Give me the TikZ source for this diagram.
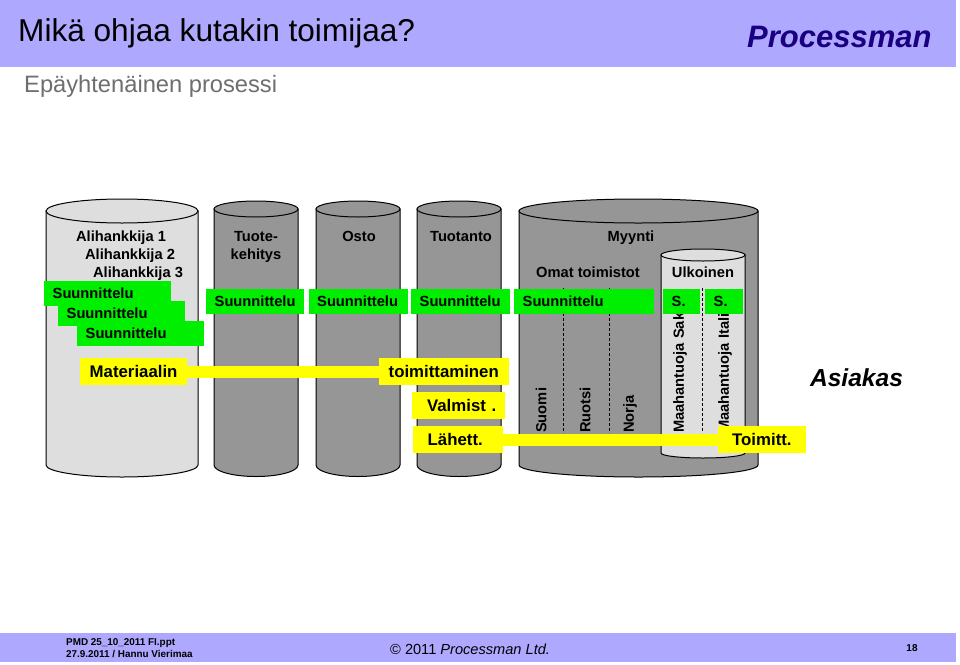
\documentclass[tikz,border=0pt]{standalone}
\usepackage{fontspec}
\setmainfont{Liberation Sans}
\usepackage{xcolor}
\usetikzlibrary{shapes.geometric, arrows}
\definecolor{band}{HTML}{AFA8FF}
\definecolor{navy}{HTML}{1A0080}
\definecolor{lightdrum}{HTML}{DEDEDE}
\definecolor{darkdrum}{HTML}{969696}
\definecolor{subgray}{HTML}{6E6E6E}
\definecolor{greenlabel}{HTML}{00EE00}
\definecolor{yellowlabel}{HTML}{FFFF00}
\newcommand{\fpx}[1]{\fontsize{#1}{#1}\selectfont}
% x, width, top, bottom, top radius, bottom radius, fill
\newcommand{\drumshape}[7]{
    \draw[line width=1pt,fill=#7] (#1,#3) -- (#1,#4) arc[start angle=180,end angle=360,x radius=#2/2*1pt,y radius=#6*1pt] -- ({#1+#2},#3) -- cycle;
    \draw[line width=1pt,fill=#7] ({#1+#2/2},#3) ellipse[x radius=#2/2*1pt,y radius=#5*1pt];
}
\tikzstyle{yellowbar} = [line width=12pt,yellowlabel]

\begin{document}
\begin{tikzpicture}
        [
            x=1pt,y=-1pt,
            head/.style={font=\bfseries\fpx{14.7},inner sep=0pt,align=center,text height=11pt,text depth=3pt},
            greenbox/.style={fill=greenlabel,anchor=west,font=\bfseries\fpx{14.7},inner xsep=8.5pt,inner ysep=0pt,text width=#1,align=left,minimum height=25pt,text height=12pt,text depth=2pt},
            yellowbox/.style={fill=yellowlabel,anchor=west,font=\bfseries\fpx{16.8},inner xsep=9.5pt,inner ysep=0pt,text width=#1,align=left,minimum height=27pt,text height=13.5pt,text depth=2pt},
            turned/.style={rotate=90,anchor=west,font=\bfseries\fpx{14.7},inner sep=0pt},
        ]
    \useasboundingbox (0,0) rectangle (960,664);

    % bands
    \fill[band] (0,0) rectangle (956,67);
    \fill[band] (0,633) rectangle (956,662);
    \node[anchor=west,inner sep=0pt,font=\fpx{31.6}] (title) at (18,33.5) {Mikä ohjaa kutakin toimijaa?};
    \node[anchor=west,inner sep=0pt,font=\bfseries\itshape\fpx{31},navy] (logo) at (747,37) {Processman};
    \node[anchor=west,inner sep=0pt,font=\fpx{23.7},subgray] (subtitle) at (24,86.5) {Epäyhtenäinen prosessi};

    % drums
    \drumshape{46}{152}{211}{465}{12}{12}{lightdrum}
    \foreach \x in {214,316,417}{
        \drumshape{\x}{84}{209}{465}{8}{11.5}{darkdrum}
    }
    \drumshape{519}{239}{211}{465}{12}{12}{darkdrum}
    \drumshape{661}{84}{255}{453}{6}{5}{lightdrum}

    \foreach \x in {563,609,702}
        \draw[dash pattern=on 3pt off 2pt,line width=0.7pt] (\x,288) -- (\x,433);

    % headings
    \node[head] (ali1) at (121,237.7) {Alihankkija 1};
    \node[head] (ali2) at (130,255.5) {Alihankkija 2};
    \node[head] (ali3) at (138,273.3) {Alihankkija 3};
    \node[head,text height=,text depth=] (tuote) at (256,247) {Tuote-\\[3pt]kehitys};
    \node[head] (osto) at (359,237.7) {Osto};
    \node[head] (tuotanto) at (461,237.7) {Tuotanto};
    \node[head] (myynti) at (631,237.7) {Myynti};
    \node[head] (omat) at (588,273.3) {Omat toimistot};
    \node[head] (ulko) at (703,273.3) {Ulkoinen};

    % turned labels
    \node[turned] (suomi) at (541,433) {Suomi};
    \node[turned] (ruotsi) at (585,433) {Ruotsi};
    \node[turned] (norja) at (630,433) {Norja};
    \node[turned] (saksa) at (680,433) {Maahantuoja Saksa};
    \node[turned] (italia) at (725,433) {Maahantuoja Italia};

    % green
    \node[greenbox=110pt] (sa) at (44,293.5) {Suunnittelu};
    \node[greenbox=110pt] (sb) at (58,313) {Suunnittelu};
    \node[greenbox=110pt] (sc) at (77,333.5) {Suunnittelu};
    \node[greenbox=81pt] (sd) at (206,301.5) {Suunnittelu};
    \node[greenbox=82pt] (se) at (308.5,301.5) {Suunnittelu};
    \node[greenbox=82pt] (sf) at (411,301.5) {Suunnittelu};
    \node[greenbox=123pt] (sg) at (514,301.5) {Suunnittelu};
    \node[greenbox=20pt] (sh) at (663,301.5) {S.};
    \node[greenbox=21pt] (si) at (705,301.5) {S.};

    % yellow
    \node[yellowbox=88pt] (mat) at (80,371.5) {Materiaalin};
    \node[yellowbox=111pt] (toim) at (379,371.5) {toimittaminen};
    \node[yellowbox=75pt,inner xsep=9pt,align=right] (valm) at (412,405.5) {Valmist .};
    \node[yellowbox=60pt,inner xsep=15pt] (lah) at (412.5,439.5) {Lähett.};
    \node[yellowbox=60pt,inner xsep=14pt] (toimitt) at (718,439.5) {Toimitt.};
    \draw[yellowbar] (mat) -- (toim);
    \draw[yellowbar] (lah) -- (toimitt);

    \node[inner sep=0pt,font=\bfseries\itshape\fpx{24.6}] (asiakas) at (856.5,378) {Asiakas};

    % footer
    \node[anchor=west,inner sep=0pt,font=\bfseries\fpx{9.9},align=left] (file) at (66,648) {PMD 25\_10\_2011 FI.ppt\\[2pt]27.9.2011 / Hannu Vierimaa};
    \node[anchor=west,inner sep=0pt,font=\fpx{14.6}] (copy) at (390,649) {© 2011 \textit{Processman Ltd.}};
    \node[inner sep=0pt,font=\bfseries\fpx{10}] (page) at (912,648) {18};
\end{tikzpicture}
\end{document}
